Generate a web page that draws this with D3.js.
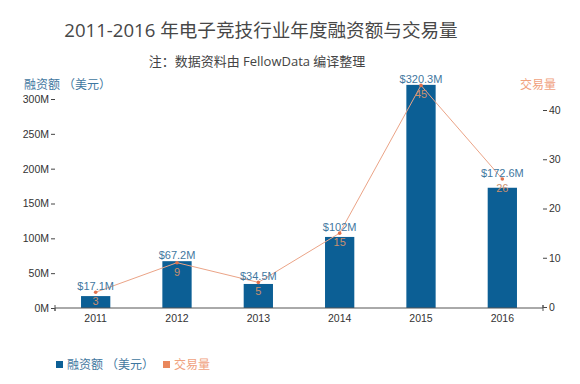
<!DOCTYPE html>
<html><head><meta charset="utf-8">
<script src="https://cdn.jsdelivr.net/npm/d3@7"></script>
<style>
html,body{margin:0;padding:0;background:#fff;}
svg{display:block;}
</style>
</head><body>
<svg id="c" width="580" height="384"></svg>
<script>
const years = ["2011","2012","2013","2014","2015","2016"];
const funding = [17.1, 67.2, 34.5, 102, 320.3, 172.6];
const fundingLabels = ["$17.1M","$67.2M","$34.5M","$102M","$320.3M","$172.6M"];
const deals = [3, 9, 5, 15, 45, 26];
const leftTicks = [0, 50, 100, 150, 200, 250, 300];
const rightTicks = [0, 10, 20, 30, 40];

const svg = d3.select("#c");
const cjk = "'Open Sans','Noto Sans CJK SC',sans-serif";
const lat = "'Liberation Sans',Arial,sans-serif";
const blue = "#0c5f95", blueTxt = "#3f77a0", orange = "#e9875c";

const x0 = 55, x1 = 543, yBase = 308;
const x = d3.scaleBand().domain(years).range([x0, x1]).padding(0);
const yL = d3.scaleLinear().domain([0, 300]).range([yBase, 99]);
const yR = d3.scaleLinear().domain([0, 40]).range([307, 110]);
const bw = x.bandwidth() * 0.36;

// title
svg.append("text").attr("x", 261).attr("y", 37).attr("text-anchor", "middle")
  .attr("font-family", cjk).attr("font-size", 18.6).attr("fill", "#474747")
  .text("2011-2016 年电子竞技行业年度融资额与交易量");
svg.append("text").attr("x", 257).attr("y", 66).attr("text-anchor", "middle")
  .attr("font-family", cjk).attr("font-size", 13).attr("fill", "#444")
  .text("注：数据资料由 FellowData 编译整理");

// axis titles
svg.append("text").attr("x", 24).attr("y", 89).attr("font-family", cjk)
  .attr("font-size", 12).attr("fill", blueTxt).text("融资额 （美元）");
svg.append("text").attr("x", 556).attr("y", 89).attr("text-anchor", "end").attr("font-family", cjk)
  .attr("font-size", 12).attr("fill", "#f0a27e").text("交易量");

// left axis
const gL = svg.append("g").attr("transform", `translate(${x0},0)`)
  .call(d3.axisLeft(yL).tickValues(leftTicks).tickFormat(d => d + "M").tickSize(4).tickPadding(2));
gL.select(".domain").remove();
gL.selectAll("text").attr("font-family", lat).attr("font-size", 10.5).attr("fill", "#333");
gL.selectAll("line").attr("stroke", "#444");

// right axis
const gR = svg.append("g").attr("transform", `translate(${x1},0)`)
  .call(d3.axisRight(yR).tickValues(rightTicks).tickSize(4).tickPadding(2));
gR.select(".domain").remove();
gR.selectAll("text").attr("font-family", lat).attr("font-size", 10.5).attr("fill", "#333");
gR.selectAll("line").attr("stroke", "#444");

// bars
svg.selectAll("rect.bar").data(years).join("rect").attr("class", "bar")
  .attr("x", d => x(d) + x.bandwidth() / 2 - bw / 2)
  .attr("width", bw)
  .attr("y", (d, i) => yL(funding[i]))
  .attr("height", (d, i) => yBase - yL(funding[i]))
  .attr("fill", blue);

// x axis
const gX = svg.append("g").attr("transform", `translate(0,${yBase})`)
  .call(d3.axisBottom(x).tickSizeInner(0).tickSizeOuter(3).tickPadding(7));
gX.select(".domain").attr("stroke", "#555").attr("d", `M${x0},-3V3V0H${x1}V-3V3`);
gX.selectAll("text").attr("font-family", lat).attr("font-size", 10.5).attr("fill", "#333");

// line
const cx = d => x(d) + x.bandwidth() / 2;
const line = d3.line().x((d, i) => cx(years[i])).y(d => yR(d));
svg.append("path").datum(deals).attr("d", line).attr("fill", "none")
  .attr("stroke", "#eba487").attr("stroke-width", 1);
svg.selectAll("circle.pt").data(deals).join("circle").attr("class", "pt")
  .attr("cx", (d, i) => cx(years[i])).attr("cy", d => yR(d)).attr("r", 1.8)
  .attr("fill", "#e2714c");

// value labels
svg.selectAll("text.fl").data(years).join("text").attr("class", "fl")
  .attr("x", d => cx(d)).attr("text-anchor", "middle")
  .attr("y", (d, i) => Math.min(yL(funding[i]), yR(deals[i])) - 2)
  .attr("font-family", lat).attr("font-size", 11).attr("fill", blueTxt)
  .text((d, i) => fundingLabels[i]);
svg.selectAll("text.dl").data(deals).join("text").attr("class", "dl")
  .attr("x", (d, i) => cx(years[i])).attr("text-anchor", "middle")
  .attr("y", d => yR(d) + 13)
  .attr("font-family", lat).attr("font-size", 11).attr("fill", "#c9906f")
  .text(d => d);

// legend
svg.append("rect").attr("x", 56).attr("y", 361).attr("width", 7).attr("height", 7).attr("fill", blue);
svg.append("text").attr("x", 67).attr("y", 369).attr("font-family", cjk).attr("font-size", 12)
  .attr("fill", blueTxt).text("融资额 （美元）");
svg.append("rect").attr("x", 163).attr("y", 361).attr("width", 7).attr("height", 7).attr("fill", orange);
svg.append("text").attr("x", 174).attr("y", 369).attr("font-family", cjk).attr("font-size", 12)
  .attr("fill", "#f0a27e").text("交易量");
</script>
</body></html>
